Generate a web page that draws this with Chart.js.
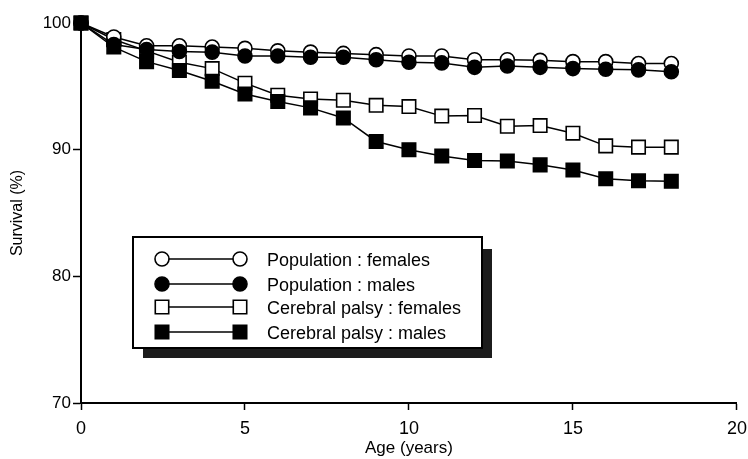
<!DOCTYPE html>
<html>
<head>
<meta charset="utf-8">
<script src="https://cdn.jsdelivr.net/npm/chart.js@4/dist/chart.umd.min.js"></script>
<style>
  html, body { margin: 0; padding: 0; background: #fff; }
  #wrap { width: 748px; height: 459px; position: relative; }
</style>
</head>
<body>
<div id="wrap"><canvas id="c" width="748" height="459"></canvas></div>
<script>
// ---- Data ----
const ages = [0, 1, 2, 3, 4, 5, 6, 7, 8, 9, 10, 11, 12, 13, 14, 15, 16, 17, 18];
const popFemales = [100, 98.9, 98.2, 98.2, 98.1, 98.0, 97.8, 97.7, 97.6, 97.5, 97.4, 97.4, 97.1, 97.1, 97.05, 96.95, 96.95, 96.8, 96.8];
const popMales   = [100, 98.3, 97.9, 97.75, 97.7, 97.4, 97.4, 97.3, 97.3, 97.1, 96.9, 96.85, 96.5, 96.6, 96.5, 96.4, 96.35, 96.3, 96.15];
const cpFemales  = [100, 98.7, 97.8, 96.9, 96.4, 95.25, 94.3, 94.0, 93.9, 93.5, 93.4, 92.65, 92.7, 91.85, 91.9, 91.3, 90.3, 90.2, 90.2];
const cpMales    = [100, 98.1, 96.95, 96.25, 95.4, 94.4, 93.8, 93.3, 92.5, 90.65, 90.0, 89.5, 89.15, 89.1, 88.8, 88.4, 87.7, 87.55, 87.5];
const seriesLabels = ['Population : females', 'Population : males', 'Cerebral palsy : females', 'Cerebral palsy : males'];
const xTickValues = [0, 5, 10, 15, 20];
const yTickValues = [70, 80, 90, 100];
const xTitle = 'Age (years)';
const yTitle = 'Survival (%)';

const FONT = "Arial, 'Liberation Sans', Helvetica, sans-serif";

function toPoints(vals) { return ages.map((a, i) => ({ x: a, y: vals[i] })); }

function ds(label, vals, style, filled, order) {
  const isRect = style === 'rect';
  return {
    label: label,
    data: toPoints(vals),
    borderColor: '#000',
    borderWidth: 1.5,
    pointStyle: style,
    pointRadius: isRect ? 9.5 : 7,
    pointBorderWidth: 1.6,
    pointBorderColor: '#000',
    pointBackgroundColor: filled ? '#000' : '#fff',
    backgroundColor: filled ? '#000' : '#fff',
    tension: 0,
    clip: false,
    order: order
  };
}

const legendPlugin = {
  id: 'boxLegend',
  afterDatasetsDraw(chart) {
    const ctx = chart.ctx;
    const bx = 133, by = 237, bw = 349, bh = 111;
    ctx.save();
    // shadow
    ctx.fillStyle = '#1c1c1c';
    ctx.fillRect(bx + 10, by + 12, bw, bh - 2);
    // box
    ctx.fillStyle = '#fff';
    ctx.fillRect(bx, by, bw, bh);
    ctx.strokeStyle = '#000';
    ctx.lineWidth = 2;
    ctx.strokeRect(bx, by, bw, bh);
    const rows = [259, 284, 307, 332];
    const x1 = 162, x2 = 240, tx = 267;
    chart.data.datasets.forEach((d, i) => {
      const y = rows[i];
      ctx.strokeStyle = '#000';
      ctx.lineWidth = 1.5;
      ctx.beginPath();
      ctx.moveTo(x1, y);
      ctx.lineTo(x2, y);
      ctx.stroke();
      const opts = {
        pointStyle: d.pointStyle,
        radius: d.pointStyle === 'rect' ? 9.5 : 7,
        rotation: 0,
        borderWidth: 1.6
      };
      ctx.fillStyle = d.pointBackgroundColor;
      ctx.strokeStyle = '#000';
      ctx.lineWidth = 1.6;
      Chart.helpers.drawPoint(ctx, opts, x1, y);
      ctx.fillStyle = d.pointBackgroundColor;
      ctx.strokeStyle = '#000';
      ctx.lineWidth = 1.6;
      Chart.helpers.drawPoint(ctx, opts, x2, y);
      ctx.fillStyle = '#000';
      ctx.font = '18px ' + FONT;
      ctx.textBaseline = 'middle';
      ctx.textAlign = 'left';
      ctx.fillText(d.label, tx, y + 2);
    });
    ctx.restore();
  }
};

new Chart(document.getElementById('c'), {
  type: 'line',
  data: {
    datasets: [
      ds(seriesLabels[0], popFemales, 'circle', false, 3),
      ds(seriesLabels[1], popMales, 'circle', true, 1),
      ds(seriesLabels[2], cpFemales, 'rect', false, 4),
      ds(seriesLabels[3], cpMales, 'rect', true, 2)
    ]
  },
  options: {
    responsive: false,
    animation: false,
    devicePixelRatio: 1,
    layout: { padding: { left: 0, top: 23, right: 2, bottom: 0 } },
    plugins: {
      legend: { display: false },
      tooltip: { enabled: false }
    },
    scales: {
      x: {
        type: 'linear',
        min: 0, max: 20,
        afterFit(s) { s.height = 56; s.paddingRight = 10; s.paddingLeft = 0; },
        afterBuildTicks(s) { s.ticks = xTickValues.map(v => ({ value: v })); },
        border: { display: true, color: '#000', width: 2 },
        grid: { display: true, drawOnChartArea: false, drawTicks: true, tickLength: 7, tickColor: '#000', tickWidth: 1.5 },
        ticks: { color: '#000', padding: 8, font: { family: FONT, size: 18 }, maxRotation: 0 },
        title: { display: true, text: xTitle, color: '#000', font: { family: FONT, size: 17 }, padding: { top: 0, bottom: 0 } }
      },
      y: {
        type: 'linear',
        min: 70, max: 100,
        afterFit(s) { s.width = 81; },
        afterBuildTicks(s) { s.ticks = yTickValues.map(v => ({ value: v })); },
        border: { display: true, color: '#000', width: 2 },
        grid: { display: true, drawOnChartArea: false, drawTicks: true, tickLength: 8, tickColor: '#000', tickWidth: 1.5 },
        ticks: { color: '#000', padding: 2, font: { family: FONT, size: 17 } },
        title: { display: true, text: yTitle, color: '#000', font: { family: FONT, size: 16 }, padding: { top: 8, bottom: 0 } }
      }
    }
  },
  plugins: [legendPlugin]
});
</script>
</body>
</html>
